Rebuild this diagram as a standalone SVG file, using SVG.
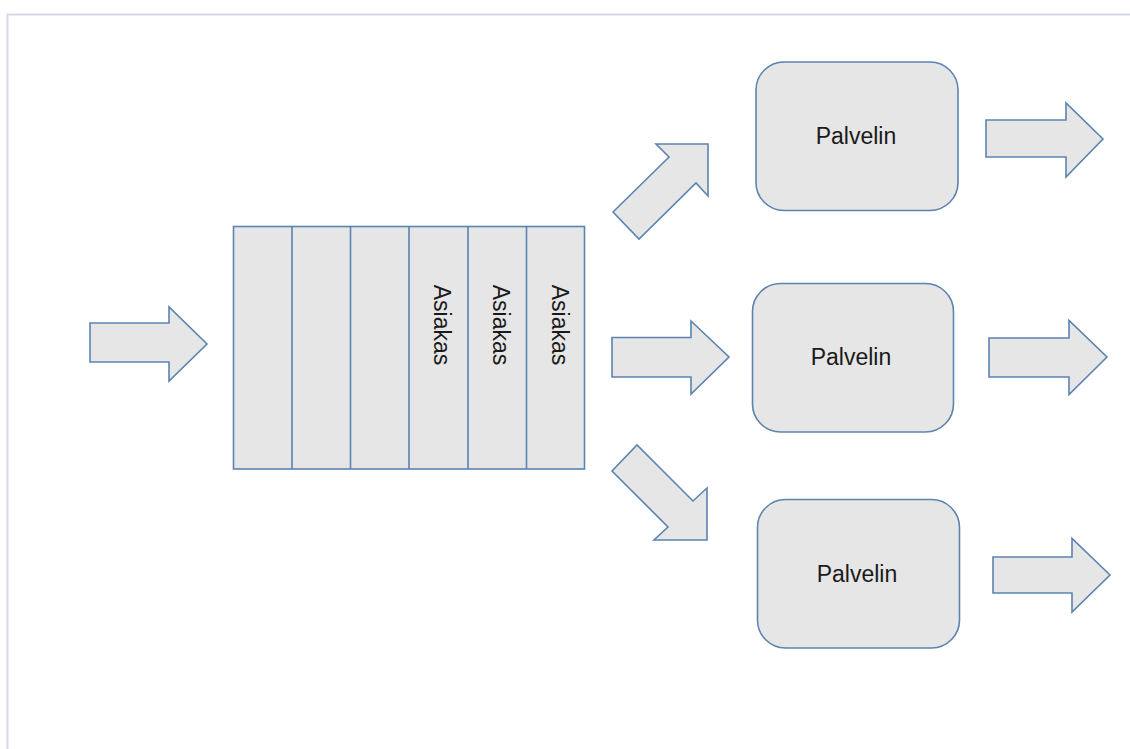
<svg xmlns="http://www.w3.org/2000/svg" width="1130" height="749" viewBox="0 0 1130 749">
<style>
.shape{fill:#e6e6e6;stroke:#5b84b1;stroke-width:1.6;stroke-linejoin:miter}
.lbl{font-family:"Liberation Sans",Arial,sans-serif;font-size:23px;fill:#1a1a1a;text-anchor:middle;dominant-baseline:central}
</style>
<rect width="1130" height="749" fill="#ffffff"/>
<path d="M7.5,749 V14.5 H1130" fill="none" stroke="#d5dae8" stroke-width="2"/>
<g id="queue">
<rect class="shape" x="233.5" y="226.5" width="351" height="242.5"/>
<path d="M292,226.5V469M350.5,226.5V469M409,226.5V469M468,226.5V469M526.5,226.5V469" fill="none" stroke="#5b84b1" stroke-width="1.6"/>
<text class="lbl" transform="translate(442,325) rotate(90)">Asiakas</text>
<text class="lbl" transform="translate(501,325) rotate(90)">Asiakas</text>
<text class="lbl" transform="translate(560,325) rotate(90)">Asiakas</text>
</g>
<g id="server1">
<rect class="shape" x="756" y="62" width="202" height="148.5" rx="28" ry="28"/>
<text class="lbl" x="856" y="136">Palvelin</text>
</g>
<g id="server2">
<rect class="shape" x="752.5" y="283.5" width="201" height="148.5" rx="28" ry="28"/>
<text class="lbl" x="851" y="357">Palvelin</text>
</g>
<g id="server3">
<rect class="shape" x="757.5" y="499.5" width="202" height="148.5" rx="28" ry="28"/>
<text class="lbl" x="857" y="574">Palvelin</text>
</g>
<g id="connectors">
<polygon class="shape" points="90,323 169,323 169,307 207,344 169,381 169,362 90,362"/>
<polygon class="shape" points="612,337.5 691,337.5 691,321 729,357 691,394 691,377 612,377"/>
<polygon class="shape" points="613,212 669,157 656,144 708,144 708,196 696,183 639,239"/>
<polygon class="shape" points="612,471 637,445 693,501 707,488 707,540 654,540 668,527"/>
<polygon class="shape" points="986,120 1066,120 1066,103 1103,139 1066,177 1066,157 986,157"/>
<polygon class="shape" points="989,338 1069,338 1069,320.5 1107,357 1069,394.5 1069,377 989,377"/>
<polygon class="shape" points="993,557 1072,557 1072,538.5 1110,575 1072,612 1072,593 993,593"/>
</g>
</svg>
